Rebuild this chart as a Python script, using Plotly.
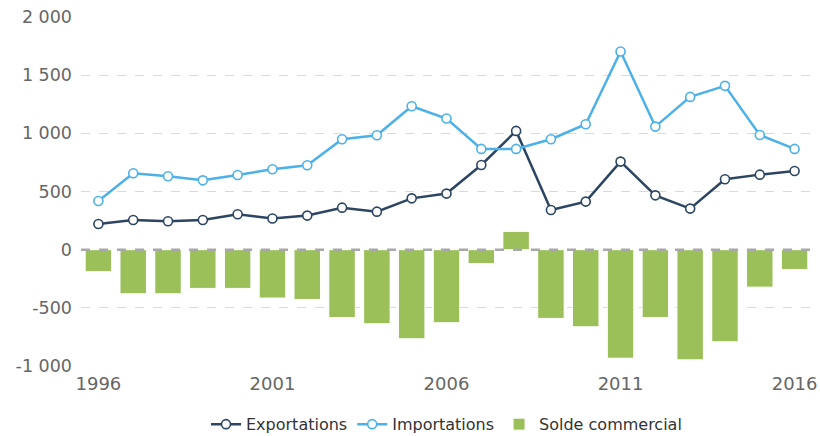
import plotly.graph_objects as go

years = list(range(1996, 2017))
exportations = [220, 255, 244, 255, 304, 268, 293, 361, 327, 441, 482, 728, 1021, 341, 413, 757, 467, 353, 605, 645, 676]
importations = [418, 657, 631, 596, 642, 691, 725, 949, 984, 1233, 1127, 866, 866, 949, 1078, 1704, 1058, 1313, 1408, 986, 866]
solde = [-189, -379, -379, -333, -333, -416, -428, -583, -637, -766, -628, -120, 157, -591, -663, -933, -583, -947, -792, -322, -170]

y_tickvals = [-1000, -500, 0, 500, 1000, 1500, 2000]
y_ticktext = ["-1 000", "-500", "0", "500", "1 000", "1 500", "2 000"]
x_tickvals = [1996, 2001, 2006, 2011, 2016]
x_ticktext = ["1996", "2001", "2006", "2011", "2016"]

DARK = "#2C4562"
LIGHT = "#4CB0E9"
GREEN = "#9BBF59"

fig = go.Figure()
fig.add_trace(go.Bar(
    x=years, y=solde, name="Solde commercial", width=0.76,
    marker=dict(color=GREEN, line=dict(color="white", width=1)),
    legendrank=3, cliponaxis=False,
))
fig.add_trace(go.Scatter(
    x=years, y=exportations, name="Exportations", mode="lines+markers",
    line=dict(color=DARK, width=2.5),
    marker=dict(symbol="circle", size=9, color="white", line=dict(color=DARK, width=1.6)),
    legendrank=1, cliponaxis=False,
))
fig.add_trace(go.Scatter(
    x=years, y=importations, name="Importations", mode="lines+markers",
    line=dict(color=LIGHT, width=2.5),
    marker=dict(symbol="circle", size=9, color="white", line=dict(color=LIGHT, width=1.6)),
    legendrank=2, cliponaxis=False,
))

fig.add_shape(type="line", xref="paper", x0=0, x1=1, yref="y", y0=0, y1=0,
              line=dict(color="#A8A8A8", width=2.5, dash="dash"), layer="above")

fig.update_layout(
    width=820, height=436,
    margin=dict(l=81, r=8, t=17, b=70, autoexpand=False),
    paper_bgcolor="white", plot_bgcolor="white",
    font=dict(family="DejaVu Sans", size=18, color="#666666"),
    showlegend=True,
    legend=dict(orientation="h", x=0.5, xanchor="center", xref="paper",
                y=0.027, yanchor="middle", yref="container",
                font=dict(size=16, color="#333333"), itemwidth=30),
    xaxis=dict(range=[1995.5, 2016.5], tickvals=x_tickvals, ticktext=x_ticktext,
               showgrid=False, zeroline=False, showline=False, ticks="",
               automargin=False, ticklabelstandoff=5,
               tickfont=dict(size=18, color="#666666")),
    yaxis=dict(range=[-1000, 2000], tickvals=y_tickvals, ticktext=y_ticktext,
               showgrid=True, gridcolor="#D9D9D9", griddash="dash", gridwidth=1,
               zeroline=False, showline=False, ticks="", automargin=False,
               ticklabelstandoff=8,
               tickfont=dict(size=17.5, color="#666666")),
)

fig.write_html("out.html", config={"displayModeBar": False},
               post_script="document.body.style.margin='0';document.body.style.padding='0';")
